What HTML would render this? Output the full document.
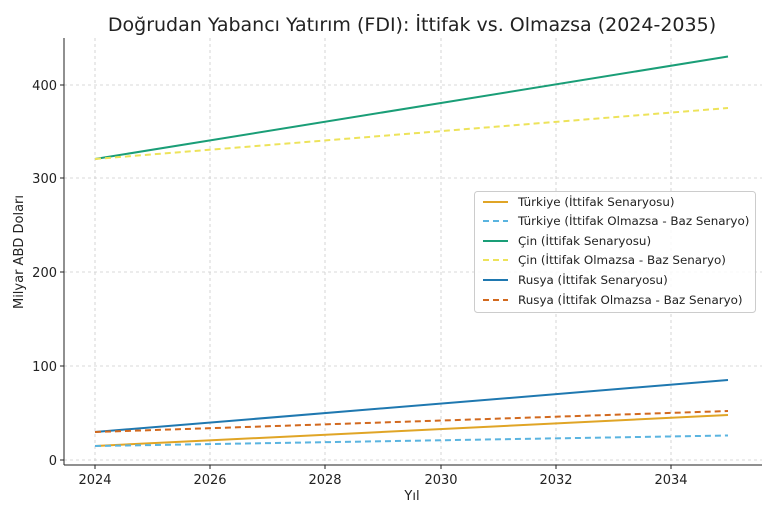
<!DOCTYPE html>
<html><head><meta charset="utf-8"><style>
body{margin:0;background:#fff}
text{font-family:"DejaVu Sans","Liberation Sans",sans-serif;fill:#222}
</style></head><body>
<svg width="774" height="518" xmlns="http://www.w3.org/2000/svg">
<rect width="774" height="518" fill="#fff"/>
<text x="412" y="31" font-size="19" text-anchor="middle">Doğrudan Yabancı Yatırım (FDI): İttifak vs. Olmazsa (2024-2035)</text>
<g stroke="#ccc" stroke-width="0.8" stroke-dasharray="3,3">
<line x1="95" y1="38" x2="95" y2="465"/><line x1="210" y1="38" x2="210" y2="465"/><line x1="325" y1="38" x2="325" y2="465"/><line x1="441" y1="38" x2="441" y2="465"/><line x1="556" y1="38" x2="556" y2="465"/><line x1="671" y1="38" x2="671" y2="465"/>
<line x1="64" y1="460" x2="762" y2="460"/><line x1="64" y1="366" x2="762" y2="366"/><line x1="64" y1="272" x2="762" y2="272"/><line x1="64" y1="178" x2="762" y2="178"/><line x1="64" y1="85" x2="762" y2="85"/>
</g>
<g stroke="#222" stroke-width="1">
<line x1="64" y1="38" x2="64" y2="465"/><line x1="64" y1="465" x2="762" y2="465"/>
<line x1="95" y1="465" x2="95" y2="469"/><line x1="210" y1="465" x2="210" y2="469"/><line x1="325" y1="465" x2="325" y2="469"/><line x1="441" y1="465" x2="441" y2="469"/><line x1="556" y1="465" x2="556" y2="469"/><line x1="671" y1="465" x2="671" y2="469"/>
<line x1="60" y1="460" x2="64" y2="460"/><line x1="60" y1="366" x2="64" y2="366"/><line x1="60" y1="272" x2="64" y2="272"/><line x1="60" y1="178" x2="64" y2="178"/><line x1="60" y1="85" x2="64" y2="85"/>
</g>
<g font-size="13" text-anchor="middle">
<text x="95" y="484">2024</text><text x="210" y="484">2026</text><text x="325" y="484">2028</text><text x="441" y="484">2030</text><text x="556" y="484">2032</text><text x="671" y="484">2034</text>
<text x="412" y="500">Yıl</text>
</g>
<g font-size="13" text-anchor="end">
<text x="57" y="465">0</text><text x="57" y="371">100</text><text x="57" y="277">200</text><text x="57" y="183">300</text><text x="57" y="90">400</text>
</g>
<text transform="translate(23,252) rotate(-90)" font-size="13" text-anchor="middle">Milyar ABD Doları</text>
<g fill="none" stroke-width="2">
<line x1="95" y1="446" x2="728" y2="415" stroke="#e0a526"/>
<line x1="95" y1="446" x2="728" y2="435.5" stroke="#5ab4e0" stroke-dasharray="6,4"/>
<line x1="95" y1="159" x2="728" y2="56.5" stroke="#1a9e77"/>
<line x1="95" y1="159" x2="728" y2="108" stroke="#ede35a" stroke-dasharray="6,4"/>
<line x1="95" y1="432" x2="728" y2="380" stroke="#1f78b0"/>
<line x1="95" y1="432" x2="728" y2="411" stroke="#d2691e" stroke-dasharray="6,4"/>
</g>
<rect x="474.5" y="191.5" width="281" height="121" rx="3" fill="#fff" fill-opacity="0.85" stroke="#ccc"/>
<g stroke-width="2">
<line x1="483" y1="202" x2="508" y2="202" stroke="#e0a526"/>
<line x1="483" y1="221" x2="508" y2="221" stroke="#5ab4e0" stroke-dasharray="6,4"/>
<line x1="483" y1="241" x2="508" y2="241" stroke="#1a9e77"/>
<line x1="483" y1="260" x2="508" y2="260" stroke="#ede35a" stroke-dasharray="6,4"/>
<line x1="483" y1="280" x2="508" y2="280" stroke="#1f78b0"/>
<line x1="483" y1="300" x2="508" y2="300" stroke="#d2691e" stroke-dasharray="6,4"/>
</g>
<g font-size="11.9">
<text x="518" y="206">Türkiye (İttifak Senaryosu)</text>
<text x="518" y="225">Türkiye (İttifak Olmazsa - Baz Senaryo)</text>
<text x="518" y="245">Çin (İttifak Senaryosu)</text>
<text x="518" y="264">Çin (İttifak Olmazsa - Baz Senaryo)</text>
<text x="518" y="284">Rusya (İttifak Senaryosu)</text>
<text x="518" y="304">Rusya (İttifak Olmazsa - Baz Senaryo)</text>
</g>
</svg>
</body></html>
